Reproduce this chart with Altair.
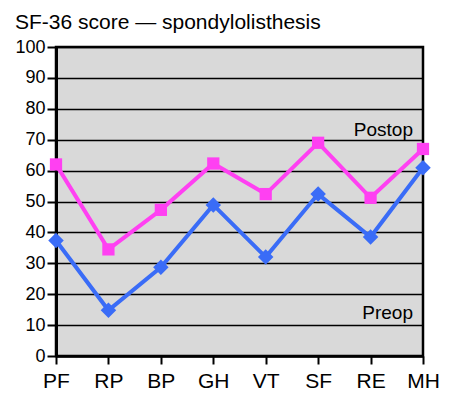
import altair as alt
import pandas as pd

categories = ["PF", "RP", "BP", "GH", "VT", "SF", "RE", "MH"]
postop = [62, 34.5, 47.3, 62.3, 52.4, 69, 51.2, 67]
preop = [37.4, 14.8, 28.7, 48.9, 32, 52.4, 38.5, 60.9]
series_names = ["Postop", "Preop"]
label_values = [73, 14]
y_ticks = [0, 10, 20, 30, 40, 50, 60, 70, 80, 90, 100]

rows = []
for c, v in zip(categories, postop):
    rows.append({"cat": c, "score": v, "series": "Postop"})
for c, v in zip(categories, preop):
    rows.append({"cat": c, "score": v, "series": "Preop"})
df = pd.DataFrame(rows)

labels_df = pd.DataFrame({"cat": ["MH", "MH"], "score": label_values, "txt": series_names})

FONT = "Liberation Sans"
colors = ["#ff40f2", "#3a6cf7"]

x = alt.X("cat:N", sort=categories, title=None,
          scale=alt.Scale(type="point", padding=0),
          axis=alt.Axis(labelAngle=0, labelFontSize=21, labelColor="black", labelFont=FONT,
                        tickColor="black", tickSize=8, tickWidth=2, domainColor="black",
                        domainWidth=2.5, labelPadding=6, grid=False, labelOverlap=False))
y = alt.Y("score:Q", title=None,
          scale=alt.Scale(domain=[0, 100], nice=False),
          axis=alt.Axis(values=y_ticks, tickCount=20, labelFontSize=18, labelColor="black",
                        labelFont=FONT, tickColor="black", tickSize=9, tickWidth=2,
                        domainColor="black", domainWidth=3, gridColor="black", gridWidth=1.6,
                        gridOpacity=1, labelPadding=2, labelOverlap=False))

color = alt.Color("series:N", scale=alt.Scale(domain=series_names, range=colors), legend=None)
shape = alt.Shape("series:N", scale=alt.Scale(domain=series_names, range=["square", "diamond"]), legend=None)
size = alt.Size("series:N", scale=alt.Scale(domain=series_names, range=[150, 240]), legend=None)

base = alt.Chart(df)
lines = base.mark_line(strokeWidth=4).encode(x=x, y=y, color=color)
points = base.mark_point(filled=True, opacity=1).encode(x=x, y=y, color=color, shape=shape, size=size)
texts = alt.Chart(labels_df).mark_text(align="right", baseline="middle", fontSize=19,
                                       font=FONT, color="black", dx=-10).encode(
    x=x, y=y, text="txt:N")

chart = alt.layer(lines, points, texts).properties(
    width=367, height=309,
    title=alt.TitleParams("SF-36 score — spondylolisthesis", anchor="start", fontSize=21,
                          font=FONT, fontWeight="normal", color="black", offset=5),
    background="white",
    autosize=alt.AutoSizeParams(type="none"),
    padding={"left": 48, "top": 39, "right": 20, "bottom": 40},
).configure_view(fill="#d9d9d9", stroke="black", strokeWidth=2.5)

chart.save("out.html", embed_options={"renderer": "svg", "actions": False})
